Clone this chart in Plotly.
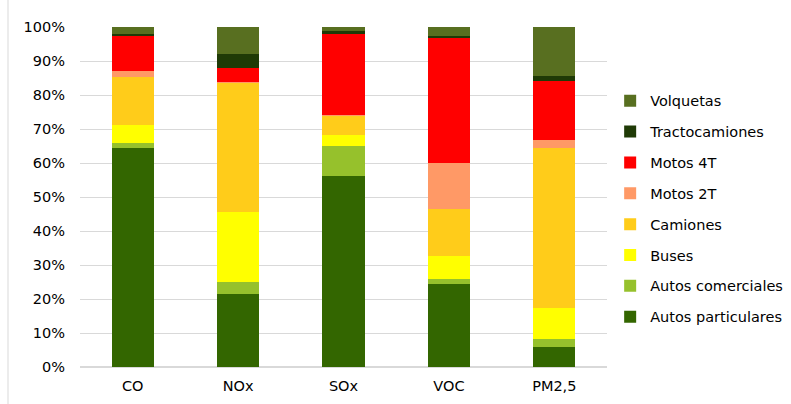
import plotly.graph_objects as go

categories = ["CO", "NOx", "SOx", "VOC", "PM2,5"]
series_names = ["Autos particulares", "Autos comerciales", "Buses", "Camiones",
                "Motos 2T", "Motos 4T", "Tractocamiones", "Volquetas"]
autos_particulares = [64.4, 21.4, 56.1, 24.5, 5.8]
autos_comerciales = [1.4, 3.5, 8.9, 1.5, 2.4]
buses = [5.3, 20.7, 3.1, 6.7, 9.2]
camiones = [14.2, 38.1, 5.9, 13.8, 47.0]
motos_2t = [1.8, 0.2, 0.2, 13.5, 2.5]
motos_4t = [10.5, 3.9, 23.8, 36.7, 17.1]
tractocamiones = [0.3, 4.4, 0.8, 0.7, 1.6]
volquetas = [2.1, 8.0, 1.2, 2.6, 14.4]
tick_vals = [0, 10, 20, 30, 40, 50, 60, 70, 80, 90, 100]
tick_text = [f"{v}%" for v in tick_vals]

values = [autos_particulares, autos_comerciales, buses, camiones,
          motos_2t, motos_4t, tractocamiones, volquetas]
colors = ["#336600", "#96C12C", "#FFFF00", "#FFCC1A",
          "#FF9966", "#FF0000", "#1F3A06", "#586F20"]

fig = go.Figure()
n = len(series_names)
for i, (name, vals, col) in enumerate(zip(series_names, values, colors)):
    fig.add_trace(go.Bar(x=categories, y=vals, name=name, marker_color=col,
                         marker_line_width=0, legendgroup=name,
                         legendrank=(n - i) * 10))

fig.update_layout(
    barmode="stack",
    bargap=0.6,
    width=791, height=404,
    margin=dict(l=80, r=184, t=27, b=37, autoexpand=False),
    plot_bgcolor="white", paper_bgcolor="white",
    font=dict(family="DejaVu Sans", size=14.5, color="#000000"),
    legend=dict(traceorder="grouped", x=1.006, y=0.83, xanchor="left", yanchor="top",
                tracegroupgap=9, font=dict(size=14.5, color="#000000"),
                itemwidth=30),
    xaxis=dict(showline=False, ticks="", tickfont=dict(size=14.5, color="#000000"),
               ticklabelstandoff=8),
    yaxis=dict(range=[0, 100], tickvals=tick_vals, ticktext=tick_text,
               gridcolor="#D9D9D9", gridwidth=1, zeroline=True, zerolinecolor="#D9D9D9",
               ticks="", tickfont=dict(size=14.5, color="#000000"), ticklabelstandoff=14),
    shapes=[dict(type="line", xref="paper", yref="paper", x0=-0.1366, x1=-0.1366,
                 y0=-0.11, y1=1.08, line=dict(color="#D9D9D9", width=1))],
)

fig.write_html("out.html", config={"displayModeBar": False},
               post_script="document.body.style.margin='0px';")
